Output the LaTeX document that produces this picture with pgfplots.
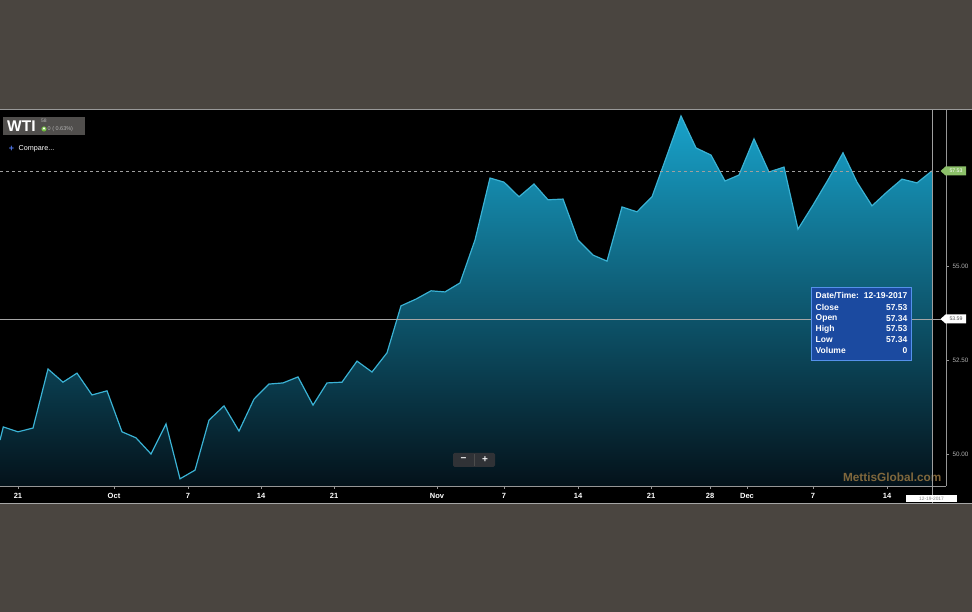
\documentclass[border=0pt]{standalone}
\usepackage{pgfplots}
\pgfplotsset{compat=1.18}
\usepackage{pgfplotstable}
\usepackage{fontspec}
\setmainfont{Liberation Sans}
\definecolor{bgc}{RGB}{74,69,64}
\definecolor{fillTop}{RGB}{24,162,202}
\definecolor{fillBot}{RGB}{4,18,26}
\definecolor{lineCol}{RGB}{58,178,212}
\definecolor{axgray}{RGB}{150,150,150}
\definecolor{tipfill}{RGB}{27,74,160}
\definecolor{tipdraw}{RGB}{85,145,235}
\definecolor{taggreen}{RGB}{140,192,105}
\definecolor{wmark}{RGB}{150,118,66}
\definecolor{boxgray}{RGB}{80,78,76}
\definecolor{btngray}{RGB}{48,50,54}
\definecolor{plusblue}{RGB}{80,120,235}
\definecolor{upgreen}{RGB}{110,185,60}
\pgfplotstableread{
x y
0 50.37
3.3 50.72
18 50.59
33 50.69
48 52.26
63 51.91
77 52.15
92 51.57
107 51.68
122 50.59
136 50.43
151 50.00
166 50.80
180 49.34
195 49.57
209 50.90
224 51.28
239 50.61
254 51.46
269 51.86
283 51.89
298 52.05
313 51.30
327 51.89
342 51.91
357 52.47
372 52.18
387 52.69
401 53.94
416 54.12
431 54.34
445 54.31
460 54.55
475 55.69
490 57.34
504 57.23
519 56.84
534 57.18
548 56.76
563 56.78
578 55.69
593 55.29
607 55.13
622 56.57
637 56.44
652 56.84
666 57.87
681 58.99
696 58.14
711 57.95
725 57.26
739 57.42
754 58.38
769 57.50
784 57.63
798 55.98
813 56.62
828 57.29
843 58.01
857 57.23
872 56.60
887 56.97
902 57.31
917 57.21
932 57.53
}\wti
\begin{document}
\begin{tikzpicture}
\begin{scope}[x=1pt,y=1pt]
\fill[bgc] (0,0) rectangle (972,612);
\fill[black] (0,109) rectangle (972,502.5);
\draw[gray!80!white, line width=1pt] (0,502.5) -- (972,502.5);
\draw[gray!70, line width=1pt] (0,108.5) -- (972,108.5);
\end{scope}
\begin{axis}[
  at={(0pt,126pt)}, anchor=south west, scale only axis,
  width=946pt, height=376pt,
  xmin=0, xmax=946, ymin=49.149, ymax=59.149,
  axis x line*=bottom, axis y line*=right,
  axis line style={draw=axgray, line width=0.8pt, -},
  xtick={18,114,188,261,334,437,504,578,651,710,747,813,887},
  xticklabels={21,Oct,7,14,21,Nov,7,14,21,28,Dec,7,14},
  xtick align=outside,
  ytick={50,52.5,55}, yticklabels={50.00,52.50,55.00},
  ytick align=outside,
  major tick length=3pt,
  tick style={axgray, line width=0.6pt},
  x tick label style={font=\bfseries\fontsize{7.5}{8}\selectfont, text=white, yshift=-1pt},
  y tick label style={font=\fontsize{6.3}{7}\selectfont, text=gray!60!white},
]
\addplot[draw=none, top color=fillTop, bottom color=fillBot] table[x=x,y=y]{\wti} |- (axis cs:0,49.149) -- cycle;
\addplot[draw=lineCol, line width=1.2pt, mark=none] table[x=x,y=y]{\wti};
\end{axis}
\begin{scope}[x=1pt,y=1pt]
% reference lines
\draw[gray!75!white, dash pattern=on 3pt off 3pt, line width=0.7pt] (0,441) -- (946,441);
\draw[gray!70!white, line width=0.7pt] (0,293) -- (946,293);
% watermark
\node[font=\bfseries\fontsize{11.8}{12}\selectfont, text=wmark, opacity=0.85, inner sep=0] at (892.2,135) {MettisGlobal.com};
\draw[gray!75!white, line width=0.8pt] (932,502) -- (932,109);
% right tags
\fill[taggreen] (940.5,441) -- (945.5,445.5) -- (966,445.5) -- (966,436.5) -- (945.5,436.5) -- cycle;
\node[font=\fontsize{5.2}{6}\selectfont, text=white, inner sep=0] at (956,441) {57.53};
\fill[white] (940.5,293) -- (945.5,297.5) -- (966,297.5) -- (966,288.5) -- (945.5,288.5) -- cycle;
\node[font=\fontsize{5.2}{6}\selectfont, text=gray!60!black, inner sep=0] at (956,293) {53.59};
% tooltip
\draw[fill=tipfill, draw=tipdraw, line width=0.8pt] (811,325) rectangle (911.5,252);
\begin{scope}[every node/.style={font=\bfseries\fontsize{8.5}{9}\selectfont, text=white, inner sep=0}]
\node[anchor=west] at (815.5,316) {Date/Time:};
\node[anchor=east] at (907.5,316) {12-19-2017};
\node[anchor=west] at (815.5,304.7) {Close};
\node[anchor=east] at (907.5,304.7) {57.53};
\node[anchor=west] at (815.5,293.7) {Open};
\node[anchor=east] at (907.5,293.7) {57.34};
\node[anchor=west] at (815.5,283) {High};
\node[anchor=east] at (907.5,283) {57.53};
\node[anchor=west] at (815.5,272) {Low};
\node[anchor=east] at (907.5,272) {57.34};
\node[anchor=west] at (815.5,261.3) {Volume};
\node[anchor=east] at (907.5,261.3) {0};
\end{scope}
% date box
\fill[white] (906,109.5) rectangle (957,117);
\node[font=\fontsize{4.8}{5}\selectfont, text=gray, inner sep=0] at (931.5,113.2) {12-19-2017};
% title box
\fill[boxgray] (3,495) rectangle (85,477);
\node[anchor=west, font=\bfseries\fontsize{15.5}{16}\selectfont, text=white, inner sep=0] at (7,486) {WTI};
\node[anchor=west, font=\fontsize{5}{6}\selectfont, text=gray!60!white, inner sep=0] at (41,491.5) {58};
\fill[upgreen] (44,483) circle (2.6);
\fill[white] (44,485) -- (45.6,482.6) -- (42.4,482.6) -- cycle;
\node[anchor=west, font=\fontsize{5.5}{6}\selectfont, text=gray!60!white, inner sep=0] at (47.5,483) {0 ( 0.63\%)};
\node[font=\bfseries\fontsize{9}{9}\selectfont, text=plusblue, inner sep=0] at (11.5,463.5) {+};
\node[anchor=west, font=\fontsize{7.2}{8}\selectfont, text=white, inner sep=0] at (18.5,463.5) {Compare...};
% zoom buttons
\fill[btngray, rounded corners=1.5pt] (453,159) rectangle (495,145);
\draw[black!70, line width=0.5pt] (474,158) -- (474,146);
\node[font=\bfseries\fontsize{10}{10}\selectfont, text=white!90!gray, inner sep=0] at (463.5,152) {\textminus};
\node[font=\bfseries\fontsize{10}{10}\selectfont, text=white!90!gray, inner sep=0] at (485,152) {+};
\end{scope}
\pgfresetboundingbox
\useasboundingbox (0pt,0pt) rectangle (972pt,612pt);
\end{tikzpicture}
\end{document}
